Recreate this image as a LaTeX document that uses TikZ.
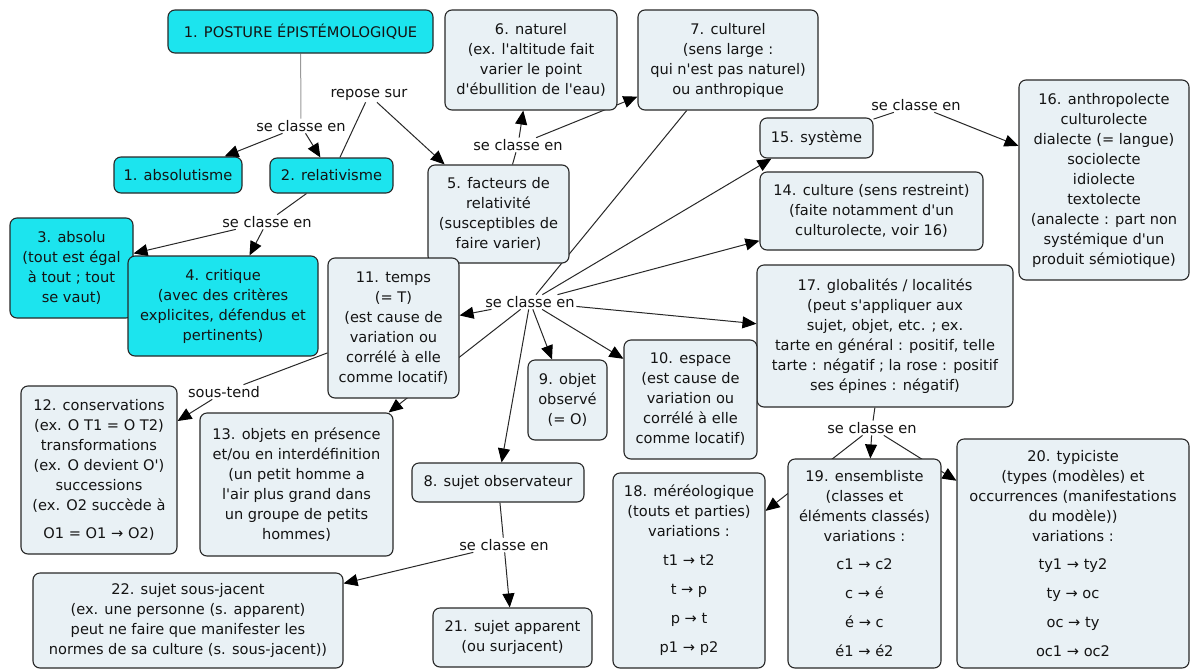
\documentclass[tikz,border=0pt]{standalone}
\usepackage{fontspec}
\setmainfont{DejaVu Sans}
\usetikzlibrary{arrows.meta}
\definecolor{aqua}{RGB}{28,228,238}
\definecolor{paleblue}{RGB}{233,241,245}
\definecolor{linec}{RGB}{40,40,40}
\definecolor{txt}{RGB}{20,20,20}
\newcommand\q{\textquotesingle}
\pgfdeclarelayer{backdrop}
\pgfdeclarelayer{edges}
\pgfsetlayers{backdrop,edges,main}
\tikzset{
  concept/.style={draw=linec, line width=1.1pt, rounded corners=7pt, fill=paleblue,
    align=center, inner sep=0pt, text=txt},
  keyconcept/.style={concept, fill=aqua},
  linkword/.style={inner sep=1.5pt, text=txt},
  link/.style={draw=linec, line width=1pt},
  greylink/.style={draw=gray!80, line width=1pt},
  tolink/.style={link, -{Triangle[length=14pt,width=12pt,color=black]}},
}
\newcommand\concept[6][concept]{%
  \node[#1, minimum width=#4pt, minimum height=#5pt] (#2) at (#3) {#6};}
\begin{document}
\begin{tikzpicture}[x=1pt, y=-1pt, font=\fontsize{14.6}{20}\selectfont]
\begin{pgfonlayer}{backdrop}
  \fill[white] (0,0) rectangle (1191,670);
\end{pgfonlayer}
\useasboundingbox (0,0) rectangle (1191,670);

% concepts
\concept[keyconcept]{n1}{300.5,31.5}{265}{43}{1. POSTURE ÉPISTÉMOLOGIQUE}
\concept[keyconcept]{nabs}{178,175}{128}{36}{1. absolutisme}
\concept[keyconcept]{nrel}{331.5,175.5}{123}{35}{2. relativisme}
\concept[keyconcept]{n3}{71.5,268}{123}{100}{3. absolu\\(tout est égal\\à tout ; tout\\se vaut)}
\concept[keyconcept]{n4}{223,306}{190}{100}{4. critique\\(avec des critères\\explicites, défendus et\\pertinents)}
\concept{n5}{498.5,214}{141}{98}{5. facteurs de\\relativité\\(susceptibles de\\faire varier)}
\concept{n6}{531,60}{172}{100}{6. naturel\\(ex. l\q altitude fait\\varier le point\\d\q ébullition de l\q eau)}
\concept{n7}{728,60}{180}{100}{7. culturel\\(sens large :\\qui n\q est pas naturel)\\ou anthropique}
\concept{n15}{816.5,138}{113}{40}{15. système}
\concept{n14}{871.5,211}{223}{78}{14. culture (sens restreint)\\(faite notamment d\q un\\culturolecte, voir 16)}
\concept{n16}{1104,180}{170}{200}{16. anthropolecte\\culturolecte\\dialecte (= langue)\\sociolecte\\idiolecte\\textolecte\\(analecte : part non\\systémique d\q un\\produit sémiotique)}
\concept{n17}{885,336}{256}{142}{17. globalités / localités\\(peut s\q appliquer aux\\sujet, objet, etc. ; ex.\\tarte en général : positif, telle\\tarte : négatif ; la rose : positif\\ses épines : négatif)}
\concept{n11}{393.5,328}{131}{140}{11. temps\\(= T)\\(est cause de\\variation ou\\corrélé à elle\\comme locatif)}
\concept{n9}{567.5,400}{79}{80}{9. objet\\observé\\(= O)}
\concept{n10}{690.5,399.5}{133}{119}{10. espace\\(est cause de\\variation ou\\corrélé à elle\\comme locatif)}
\concept{n12}{99,470}{156}{168}{12. conservations\\(ex. O T1 = O T2)\\transformations\\(ex. O devient O\q)\\successions\\(ex. O2 succède à\\[8pt]O1 = O1 → O2)}
\concept{n13}{296.5,484.5}{193}{143}{13. objets en présence\\et/ou en interdéfinition\\(un petit homme a\\l\q air plus grand dans\\un groupe de petits\\hommes)}
\concept{n8}{498,482.5}{172}{39}{8. sujet observateur}
\concept{n21}{512.5,637.5}{159}{59}{21. sujet apparent\\(ou surjacent)}
\concept{n22}{188,620.5}{310}{95}{22. sujet sous-jacent\\(ex. une personne (s. apparent)\\peut ne faire que manifester les\\normes de sa culture (s. sous-jacent))}
\concept{n18}{689,570.5}{152}{195}{18. méréologique\\(touts et parties)\\variations :\\[9pt]t1 → t2\\[9pt]t → p\\[9pt]p → t\\[9pt]p1 → p2}
\concept{n19}{864.5,563.5}{153}{209}{19. ensembliste\\(classes et\\éléments classés)\\variations :\\[8pt]c1 → c2\\[9pt]c → é\\[9pt]é → c\\[9pt]é1 → é2}
\concept{n20}{1073,553.5}{232}{229}{20. typiciste\\(types (modèles) et\\occurrences (manifestations\\du modèle))\\variations :\\[8pt]ty1 → ty2\\[9pt]ty → oc\\[9pt]oc → ty\\[9pt]oc1 → oc2}

% linking phrases
\node[linkword] (l1) at (301,126) {se classe en};
\node[linkword] (l2) at (369,95) {repose sur};
\node[linkword] (l3) at (267,222) {se classe en};
\node[linkword] (l4) at (518,145) {se classe en};
\node[linkword] (l5) at (530,302) {se classe en};
\node[linkword] (l6) at (916,105) {se classe en};
\node[linkword] (l7) at (224,392) {sous-tend};
\node[linkword] (l8) at (504,545) {se classe en};
\node[linkword] (l9) at (872,428) {se classe en};

% connectors, kept under the concept boxes
\begin{pgfonlayer}{edges}
  \draw[greylink] (n1) -- (l1);
  \draw[tolink] (l1) -- (nabs);
  \draw[tolink] (l1) -- (nrel);
  \draw[link] (nrel) -- (l2);
  \draw[tolink] (l2) -- (n5);
  \draw[link] (nrel) -- (l3);
  \draw[tolink] (l3) -- (n3);
  \draw[tolink] (l3) -- (n4);
  \draw[link] (n5) -- (l4);
  \draw[tolink] (l4) -- (n6);
  \draw[tolink] (l4) -- (n7);
  \draw[link] (n7) -- (l5);
  \draw[tolink] (l5) -- ([xshift=12pt]n15.south west);
  \draw[tolink] (l5) -- (n14);
  \draw[tolink] (l5) -- (n17);
  \draw[tolink] (l5) -- (n11);
  \draw[tolink] (l5) -- (n13);
  \draw[tolink] (l5) -- (n9);
  \draw[tolink] (l5) -- (n10);
  \draw[tolink] (l5) -- (n8);
  \draw[link] (n15) -- (l6);
  \draw[tolink] (l6) -- (n16);
  \draw[link] (n11) -- (l7);
  \draw[tolink] (l7) -- (n12);
  \draw[link] (n8) -- (l8);
  \draw[tolink] (l8) -- (n21);
  \draw[tolink] (l8) -- (n22);
  \draw[link] (n17) -- (l9);
  \draw[tolink] (l9) -- (n19);
  \draw[tolink] (l9) -- (n18);
  \draw[tolink] (l9) -- (n20);
\end{pgfonlayer}
\end{tikzpicture}
\end{document}
